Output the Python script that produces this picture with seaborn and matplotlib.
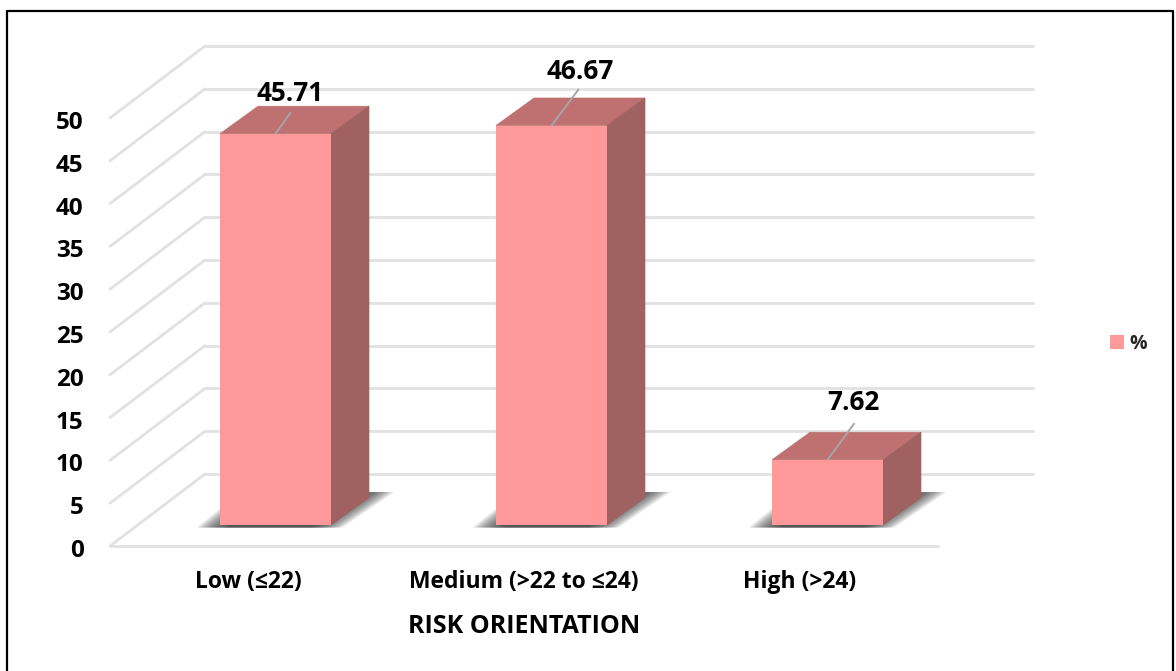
import matplotlib
matplotlib.use("Agg")
import matplotlib.pyplot as plt
from matplotlib.patches import Polygon, Rectangle
from matplotlib.lines import Line2D
from matplotlib.transforms import IdentityTransform, ScaledTranslation
import numpy as np
import pandas as pd
import seaborn as sns

# Survey shares by risk orientation band
categories = ["Low (≤22)", "Medium (>22 to ≤24)", "High (>24)"]
percent = [45.71, 46.67, 7.62]
y_ticks = [0, 5, 10, 15, 20, 25, 30, 35, 40, 45, 50]
x_title = "RISK ORIENTATION"
series_name = "%"

sns.set_theme(style="white")
plt.rcParams["font.family"] = ["Open Sans", "DejaVu Sans"]
plt.rcParams["font.weight"] = "bold"

W, H = 1176, 671
DPI = 100
FRONT = "#ff9999"
TOP = "#bf7171"
SIDE = "#a06161"
GRID = "#e1e1e1"
LEADER = "#a6a6a6"

# Projected 3D layout, in pixels from the top-left corner
FLOOR_LEFT, FLOOR_RIGHT, FLOOR_Y, VALUE_50_Y = 110, 938, 546, 118
WALL_DX, WALL_DY = 95, -72        # front plane to back wall
BAR_DX, BAR_DY = 27.5, -21        # front plane to bar faces
DEPTH_DX, DEPTH_DY = 38, -27.5    # thickness of each bar
LABEL_OFFSETS = [(14.5, -40), (29, -54), (25.5, -57)]
LEADER_ENDS = [(15, -21), (27, -36), (26.5, -36)]


def axes_rect(left, right, bottom_y, top_y):
    return [left / W, 1 - bottom_y / H, (right - left) / W, (bottom_y - top_y) / H]


fig = plt.figure(figsize=(W / DPI, H / DPI), dpi=DPI, facecolor="white")

# Outer border: the lower edge runs off the bottom of the canvas
fig.add_artist(Line2D([6.5 / W, 6.5 / W, 1173 / W, 1173 / W],
                      [0, 1 - 11 / H, 1 - 11 / H, 0],
                      transform=fig.transFigure, color="black", linewidth=1.6, zorder=0))

# Front plane: carries the value scale and the category labels
ax_axis = fig.add_axes(axes_rect(FLOOR_LEFT, FLOOR_RIGHT, FLOOR_Y, VALUE_50_Y))
ax_axis.patch.set_visible(False)
ax_axis.set_zorder(0.5)
ax_axis.set_xlim(-0.5, 2.5)
ax_axis.set_ylim(0, 50)
ax_axis.set_xticks(range(len(categories)), categories)
ax_axis.set_yticks(y_ticks)
ax_axis.tick_params(axis="y", length=0, pad=19, labelsize=17.5, labelcolor="black")
ax_axis.tick_params(axis="x", length=0, pad=17, labelsize=16.5, labelcolor="black")
ax_axis.set_xlabel(x_title, fontsize=18, fontweight="bold", color="black", labelpad=15)
sns.despine(ax=ax_axis, left=True, bottom=True, top=True, right=True)

# Value labels sit slightly below their rules
nudge = ScaledTranslation(0, -2 / DPI, fig.dpi_scale_trans)
for lab in ax_axis.get_yticklabels():
    lab.set_transform(lab.get_transform() + nudge)

# Bar plane: same scale, shifted back along the floor
ax_bars = fig.add_axes(axes_rect(FLOOR_LEFT + BAR_DX, FLOOR_RIGHT + BAR_DX,
                                 FLOOR_Y + BAR_DY, VALUE_50_Y + BAR_DY))
ax_bars.patch.set_visible(False)
ax_bars.set_zorder(4)
frame = pd.DataFrame({"band": categories, "share": percent})
sns.barplot(data=frame, x="band", y="share", ax=ax_bars, color=FRONT, saturation=1,
            width=0.402, label=series_name, legend=False, edgecolor="none", linewidth=0)
ax_bars.set_xlim(-0.5, 2.5)
ax_bars.set_ylim(0, 50)
ax_bars.axis("off")

fig.canvas.draw()
screen = IdentityTransform()


def draw_poly(points, **kw):
    fig.add_artist(Polygon(points, closed=True, transform=screen, **kw))


def draw_line(xs, ys, **kw):
    fig.add_artist(Line2D(xs, ys, transform=screen, **kw))


to_px = ax_axis.transData
grid_kw = dict(color=GRID, linewidth=2.0, solid_capstyle="round", zorder=1)
for tick in y_ticks:
    x0, y0 = to_px.transform((-0.5, tick))
    x1 = to_px.transform((2.5, tick))[0]
    # Side wall diagonal and back wall rule
    draw_line([x0, x0 + WALL_DX], [y0, y0 - WALL_DY], **grid_kw)
    draw_line([x0 + WALL_DX, x1 + WALL_DX], [y0 - WALL_DY, y0 - WALL_DY], **grid_kw)
x0, y0 = to_px.transform((-0.5, 0))
x1 = to_px.transform((2.5, 0))[0]
draw_line([x0, x1], [y0, y0], **grid_kw)

# Floor shadows, built from stacked translucent layers for a soft edge
for bar in ax_bars.patches:
    xa, yb = ax_bars.transData.transform((bar.get_x(), 0))
    xb = ax_bars.transData.transform((bar.get_x() + bar.get_width(), 0))[0]
    for grow in np.linspace(16, -16, 41):
        draw_poly([(xa - 8 - grow, yb - 2.5),
                   (xb - 4 + grow, yb - 2.5),
                   (xb + 48 + grow, yb + 33 + min(grow, 0) * 0.12),
                   (xa + 36 - grow, yb + 33 + min(grow, 0) * 0.12)],
                  facecolor="#3a3a3a", edgecolor="none", alpha=0.04, zorder=2)

# Top and side faces of each bar
for bar in ax_bars.patches:
    xa, yb = ax_bars.transData.transform((bar.get_x(), 0))
    xb, yt = ax_bars.transData.transform((bar.get_x() + bar.get_width(), bar.get_height()))
    draw_poly([(xa, yt), (xb, yt), (xb + DEPTH_DX, yt - DEPTH_DY), (xa + DEPTH_DX, yt - DEPTH_DY)],
              facecolor=TOP, edgecolor=TOP, linewidth=0.5, zorder=3)
    draw_poly([(xb, yb), (xb + DEPTH_DX, yb - DEPTH_DY), (xb + DEPTH_DX, yt - DEPTH_DY), (xb, yt)],
              facecolor=SIDE, edgecolor=SIDE, linewidth=0.5, zorder=3)

# Value labels with leader lines running over the top face
for i, (bar, value) in enumerate(zip(ax_bars.patches, percent)):
    cx = bar.get_x() + bar.get_width() / 2
    px, py = ax_bars.transData.transform((cx, value))
    (lx, ly), (ex, ey) = LABEL_OFFSETS[i], LEADER_ENDS[i]
    draw_line([px, px + ex], [py, py - ey], color=LEADER, linewidth=1.4, zorder=6)
    fig.text((px + lx) / W, (py - ly) / H, f"{value:.2f}", ha="center", va="center",
             fontsize=18.8, fontweight="bold", color="black", zorder=7)

# Legend to the right of the plot
handle = Rectangle((0, 0), 1, 1, facecolor=FRONT, edgecolor="none")
fig.legend([handle], [series_name], loc="center left",
           bbox_to_anchor=(1094 / W, 1 - 344 / H), frameon=False, fontsize=14,
           handlelength=0.72, handleheight=0.72, handletextpad=0.3, borderpad=0.3)

fig.savefig("out.png", dpi=DPI, facecolor="white")
